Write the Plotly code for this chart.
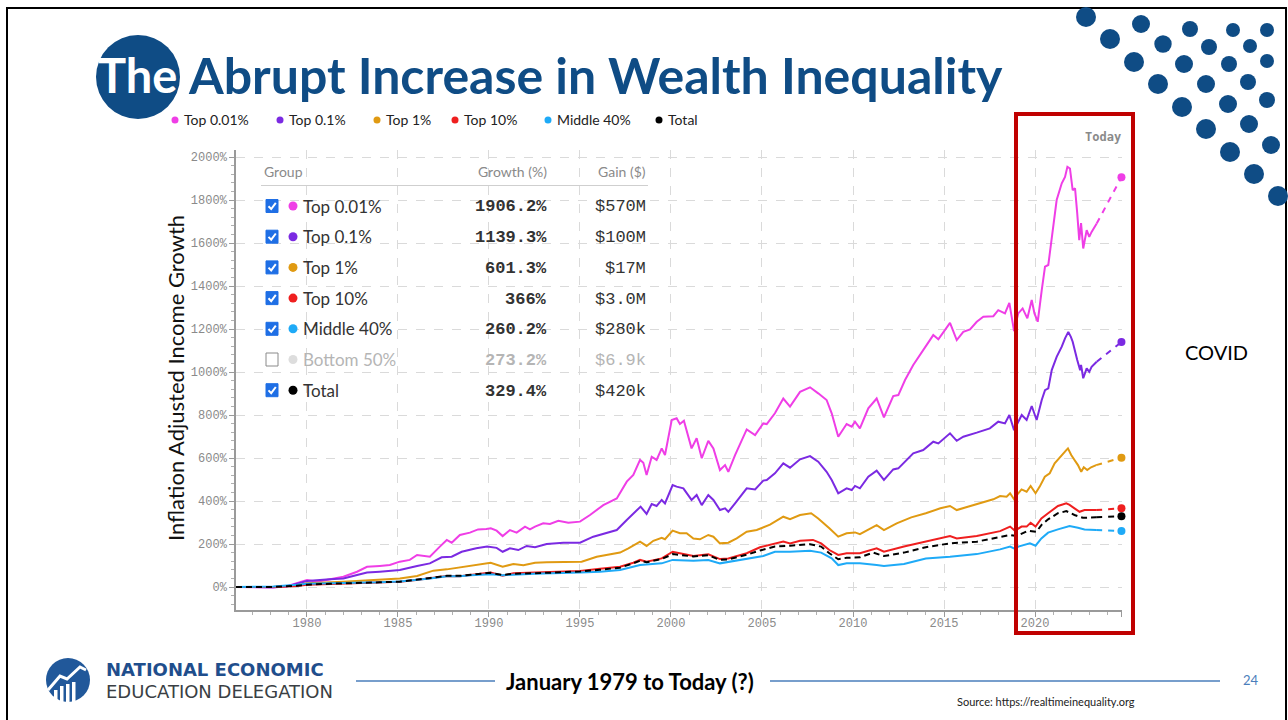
import plotly.graph_objects as go

# ---------------- data ----------------
SERIES_NAMES = ["Top 0.01%", "Top 0.1%", "Top 1%", "Top 10%", "Middle 40%", "Total"]
SERIES_COLORS = ["#ef3ee6", "#7b2ae2", "#e09a12", "#ef1f1f", "#1eaaf7", "#000000"]
TODAY_YEAR = 2024.75

top001_years = [1976.1, 1977.6, 1978.15, 1978.9, 1979.45, 1980.0, 1980.55, 1981.25, 1982.0, 1982.75,
                1983.3, 1984.0, 1984.55, 1985.1, 1985.65, 1986.05, 1986.75, 1987.3, 1987.68, 1987.95,
                1988.4, 1988.95, 1989.4, 1989.85, 1990.1, 1990.42, 1990.75, 1991.15, 1991.52, 1991.98,
                1992.25, 1992.53, 1992.98, 1993.35, 1993.81, 1994.36, 1995.0, 1995.55, 1996.28, 1997.02,
                1997.57, 1997.93, 1998.3, 1998.48, 1998.66, 1998.94, 1999.21, 1999.49, 1999.67, 2000.04,
                2000.31, 2000.49, 2000.71, 2001.13, 2001.41, 2001.69, 2002.05, 2002.33, 2002.69, 2002.97,
                2003.15, 2003.52, 2004.16, 2004.62, 2005.07, 2005.26, 2005.71, 2006.17, 2006.54, 2007.09,
                2007.64, 2008.09, 2008.55, 2008.83, 2009.19, 2009.65, 2009.93, 2010.11, 2010.38, 2010.84,
                2011.3, 2011.7, 2012.21, 2012.49, 2012.86, 2013.31, 2013.86, 2014.41, 2014.69, 2015.33,
                2015.7, 2016.06, 2016.43, 2016.8, 2017.16, 2017.71, 2017.98, 2018.35, 2018.59, 2018.85,
                2019.08, 2019.32, 2019.58, 2019.82, 2019.97, 2020.15, 2020.37, 2020.55, 2020.73, 2020.92,
                2021.19, 2021.47, 2021.65, 2021.78, 2021.92, 2022.07, 2022.2, 2022.32, 2022.43, 2022.53,
                2022.65, 2022.84, 2022.98, 2023.11, 2023.39]
top001_vals = [0, 0, -2, 4, 17, 33, 25, 36, 48, 71,
               94, 98, 102, 118, 126, 149, 141, 188, 219, 206,
               242, 253, 268, 270, 273, 262, 237, 265, 253, 281,
               268, 281, 296, 293, 308, 299, 304, 335, 381, 412,
               490, 521, 591, 578, 521, 606, 591, 645, 614, 777,
               785, 758, 773, 645, 692, 599, 680, 645, 544, 567,
               536, 614, 733, 707, 761, 758, 808, 877, 839, 908,
               929, 901, 870, 808, 699, 758, 746, 769, 738, 831,
               877, 789, 888, 893, 963, 1033, 1102, 1172, 1152, 1229,
               1149, 1187, 1198, 1234, 1257, 1260, 1288, 1273, 1322, 1190,
               1273, 1296, 1250, 1335, 1273, 1234, 1381, 1490, 1498, 1629,
               1800, 1878, 1908, 1955, 1947, 1846, 1855, 1738, 1614, 1693,
               1575, 1660, 1629, 1652, 1691]

top01_years = [1976.1, 1977.6, 1978.15, 1978.9, 1979.45, 1980.0, 1981.25, 1982.0, 1982.75, 1983.3,
               1984.0, 1985.1, 1986.05, 1986.75, 1987.4, 1987.95, 1988.5, 1989.3, 1989.9, 1990.42,
               1990.75, 1991.15, 1991.61, 1992.07, 1992.53, 1993.17, 1994.09, 1995.0, 1995.73, 1996.47,
               1997.02, 1997.57, 1998.02, 1998.33, 1998.66, 1998.94, 1999.21, 1999.49, 1999.67, 2000.09,
               2000.31, 2000.68, 2001.13, 2001.41, 2001.69, 2002.05, 2002.33, 2002.69, 2002.97, 2003.15,
               2003.52, 2004.16, 2004.62, 2005.07, 2005.26, 2005.71, 2006.17, 2006.54, 2007.09, 2007.64,
               2008.09, 2008.55, 2008.83, 2009.19, 2009.65, 2009.93, 2010.11, 2010.38, 2010.84, 2011.3,
               2011.7, 2012.21, 2012.49, 2012.86, 2013.31, 2013.86, 2014.41, 2014.69, 2015.33, 2015.7,
               2016.06, 2016.8, 2017.52, 2017.98, 2018.35, 2018.59, 2018.85, 2019.27, 2019.54, 2019.82,
               2020.09, 2020.37, 2020.55, 2020.73, 2020.92, 2021.19, 2021.47, 2021.65, 2021.83, 2021.97,
               2022.07, 2022.32, 2022.48, 2022.53, 2022.65, 2022.84, 2022.98, 2023.11, 2023.39]
top01_vals = [0, 0, -1, 3, 15, 28, 36, 40, 56, 67,
              71, 79, 98, 110, 138, 141, 164, 180, 188, 182,
              164, 180, 172, 191, 185, 200, 206, 206, 234, 253,
              265, 312, 350, 374, 340, 386, 377, 405, 389, 474,
              467, 459, 405, 428, 381, 428, 405, 358, 366, 350,
              389, 459, 454, 495, 498, 529, 575, 555, 594, 609,
              583, 536, 498, 436, 459, 451, 470, 459, 513, 541,
              498, 547, 552, 583, 622, 637, 676, 668, 715, 680,
              699, 718, 738, 769, 761, 800, 730, 800, 777, 842,
              777, 870, 916, 924, 1009, 1071, 1118, 1157, 1187, 1164,
              1141, 1056, 1009, 1033, 971, 1017, 1001, 1024, 1048]

top1_years = [1976.1, 1978.15, 1979.45, 1980.0, 1982.0, 1984.0, 1985.1, 1986.05, 1986.94, 1987.68,
              1988.59, 1989.51, 1990.09, 1990.75, 1991.34, 1991.89, 1992.53, 1993.17, 1994.09, 1995.09,
              1995.92, 1996.83, 1997.2, 1997.66, 1998.3, 1998.66, 1999.03, 1999.49, 1999.67, 2000.09,
              2000.49, 2000.86, 2001.23, 2001.59, 2002.05, 2002.33, 2002.69, 2003.15, 2003.61, 2004.16,
              2004.71, 2005.44, 2005.99, 2006.17, 2006.54, 2007.09, 2007.7, 2008.09, 2008.7, 2009.19,
              2009.65, 2010.11, 2010.38, 2011.3, 2011.7, 2012.4, 2013.2, 2014.0, 2014.8, 2015.33,
              2015.7, 2016.3, 2017.0, 2017.71, 2018.08, 2018.44, 2018.63, 2018.85, 2019.08, 2019.26,
              2019.54, 2019.76, 2020.03, 2020.26, 2020.54, 2020.81, 2021.08, 2021.45, 2021.72, 2021.81,
              2021.99, 2022.17, 2022.36, 2022.54, 2022.68, 2022.87, 2023.08, 2023.36]
top1_vals = [0, 0, 8, 17, 25, 33, 40, 51, 76, 82,
             94, 107, 113, 94, 107, 101, 113, 115, 118, 118,
             141, 153, 160, 180, 211, 191, 215, 229, 222, 262,
             250, 250, 226, 222, 242, 234, 203, 206, 226, 257,
             265, 290, 318, 327, 315, 335, 343, 319, 273, 234,
             250, 254, 246, 288, 265, 296, 324, 343, 366, 377,
             358, 374, 389, 408, 423, 420, 436, 408, 436, 454,
             443, 470, 436, 467, 513, 529, 575, 614, 637, 645,
             614, 591, 567, 536, 557, 544, 557, 567]

top10_years = [1976.1, 1978.15, 1979.45, 1980.0, 1981.3, 1982.75, 1984.0, 1985.1, 1986.0, 1986.76,
               1987.68, 1988.4, 1989.0, 1990.09, 1990.75, 1991.34, 1992.53, 1995.0, 1996.1, 1997.2,
               1997.93, 1998.3, 1998.66, 1999.49, 2000.09, 2000.49, 2001.23, 2002.05, 2002.69, 2003.15,
               2004.16, 2004.89, 2005.71, 2006.17, 2006.54, 2007.09, 2007.8, 2008.25, 2008.7, 2009.19,
               2009.65, 2010.38, 2011.3, 2011.7, 2012.8, 2014.0, 2015.33, 2015.7, 2016.8, 2018.08,
               2018.63, 2018.9, 2019.26, 2019.54, 2019.76, 2020.03, 2020.35, 2020.72, 2021.26, 2021.72,
               2021.9, 2022.17, 2022.45, 2022.72, 2023.36]
top10_vals = [0, 0, 5, 10, 14, 17, 22, 25, 33, 40,
              51, 50, 56, 67, 53, 64, 67, 74, 85, 94,
              113, 126, 118, 133, 164, 157, 144, 152, 130, 133,
              157, 185, 203, 211, 203, 215, 219, 203, 172, 149,
              157, 157, 180, 164, 188, 211, 237, 226, 237, 260,
              281, 262, 281, 281, 299, 281, 319, 343, 377, 389,
              382, 366, 350, 358, 358]

mid40_years = [1976.1, 1978.15, 1979.45, 1980.0, 1981.3, 1982.75, 1984.0, 1985.1, 1986.0, 1986.76,
               1987.68, 1988.4, 1989.0, 1990.09, 1990.75, 1992.5, 1995.0, 1996.1, 1997.2, 1998.3,
               1999.49, 2000.09, 2001.23, 2002.05, 2002.69, 2004.16, 2005.07, 2005.71, 2006.54, 2007.64,
               2008.25, 2008.83, 2009.19, 2009.65, 2010.38, 2011.3, 2011.7, 2012.8, 2014.0, 2015.33,
               2016.8, 2018.08, 2018.63, 2018.9, 2019.08, 2019.72, 2020.03, 2020.35, 2020.72, 2021.26,
               2021.9, 2022.36, 2022.72, 2023.36]
mid40_vals = [0, 2, 10, 15, 18, 19, 22, 26, 33, 40,
              50, 50, 55, 59, 55, 62, 67, 71, 79, 102,
              110, 126, 122, 126, 110, 133, 144, 164, 164, 169,
              160, 133, 102, 110, 110, 102, 98, 107, 133, 141,
              153, 175, 188, 177, 188, 203, 192, 226, 253, 268,
              284, 276, 268, 265]

total_years = [1976.1, 1978.15, 1979.45, 1980.0, 1981.3, 1982.75, 1984.0, 1985.1, 1986.0, 1986.76,
               1987.68, 1988.4, 1989.0, 1990.09, 1990.75, 1991.34, 1992.53, 1995.0, 1996.1, 1997.2,
               1997.93, 1998.3, 1998.66, 1999.49, 2000.09, 2000.49, 2001.23, 2002.05, 2002.69, 2003.15,
               2004.16, 2004.89, 2005.71, 2006.54, 2007.64, 2008.25, 2008.7, 2009.19, 2009.65, 2010.38,
               2011.1, 2011.7, 2012.8, 2014.0, 2015.33, 2016.8, 2018.08, 2018.63, 2019.0, 2019.63,
               2020.08, 2020.35, 2020.72, 2021.26, 2021.72, 2022.17, 2022.63, 2023.36]
total_vals = [0, 0, 6, 11, 15, 17, 22, 25, 33, 42,
              52, 52, 57, 66, 56, 62, 64, 72, 80, 90,
              110, 122, 115, 130, 153, 148, 142, 148, 126, 128,
              150, 170, 188, 192, 199, 188, 157, 129, 136, 138,
              160, 144, 160, 185, 203, 211, 234, 242, 237, 262,
              257, 288, 315, 343, 353, 335, 322, 324]

TODAY_VALUES = [1906.2, 1139.3, 601.3, 366.0, 260.2, 329.4]
SERIES_YEARS = [top001_years, top01_years, top1_years, top10_years, mid40_years, total_years]
SERIES_VALUES = [top001_vals, top01_vals, top1_vals, top10_vals, mid40_vals, total_vals]

TABLE_GROUPS = ["Top 0.01%", "Top 0.1%", "Top 1%", "Top 10%", "Middle 40%", "Bottom 50%", "Total"]
TABLE_GROWTH = ["1906.2%", "1139.3%", "601.3%", "366%", "260.2%", "273.2%", "329.4%"]
TABLE_GAIN = ["$570M", "$100M", "$17M", "$3.0M", "$280k", "$6.9k", "$420k"]
TABLE_CHECKED = [True, True, True, True, True, False, True]

Y_TICKS = list(range(0, 2001, 200))
Y_TICK_TEXT = [f"{v}%" for v in Y_TICKS]
X_TICKS = [1980, 1985, 1990, 1995, 2000, 2005, 2010, 2015, 2020]
X_TICK_TEXT = [str(v) for v in X_TICKS]

# ---------------- layout helpers (pixel -> paper) ----------------
W, H = 1288, 720
L, T, PW, PH = 236, 150, 886, 460


def px(x):
    return (x - L) / PW


def py(y):
    return (T + PH - y) / PH


shapes = []
annots = []


def text(x, y, s, size, color="#000", family="Lato", xanchor="left", bold=False, **kw):
    if bold:
        s = f"<b>{s}</b>"
    annots.append(dict(x=px(x), y=py(y), xref="paper", yref="paper", text=s, showarrow=False,
                       xanchor=xanchor, yanchor="middle", font=dict(size=size, color=color, family=family), **kw))


def circle(cx, cy, r, color, layer="above"):
    shapes.append(dict(type="circle", xref="paper", yref="paper", x0=px(cx - r), x1=px(cx + r),
                       y0=py(cy + r), y1=py(cy - r), fillcolor=color, line=dict(width=0), layer=layer))


def rect(x0, y0, x1, y1, fill=None, line_color=None, lw=0, layer="above"):
    d = dict(type="rect", xref="paper", yref="paper", x0=px(x0), x1=px(x1), y0=py(y1), y1=py(y0),
             line=dict(width=lw, color=line_color or "rgba(0,0,0,0)"), layer=layer)
    if fill:
        d["fillcolor"] = fill
    shapes.append(d)


def line(x0, y0, x1, y1, color, lw):
    shapes.append(dict(type="line", xref="paper", yref="paper", x0=px(x0), x1=px(x1), y0=py(y0), y1=py(y1),
                       line=dict(color=color, width=lw)))


def path(points, color, lw):
    p = "M " + " L ".join(f"{px(a)},{py(b)}" for a, b in points)
    shapes.append(dict(type="path", xref="paper", yref="paper", path=p, line=dict(color=color, width=lw)))


# ---------------- traces ----------------
fig = go.Figure()
for name, col, xs, ys, tv in zip(SERIES_NAMES, SERIES_COLORS, SERIES_YEARS, SERIES_VALUES, TODAY_VALUES):
    dash = "6px,4px" if name == "Total" else "solid"
    fig.add_trace(go.Scatter(x=xs, y=ys, mode="lines", name=name,
                             line=dict(color=col, width=2, dash=dash), hoverinfo="skip"))
    fig.add_trace(go.Scatter(x=[xs[-1], TODAY_YEAR], y=[ys[-1], tv], mode="lines",
                             line=dict(color=col, width=2, dash="6px,6px"), hoverinfo="skip"))
    fig.add_trace(go.Scatter(x=[TODAY_YEAR], y=[tv], mode="markers", cliponaxis=False,
                             marker=dict(color=col, size=8), hoverinfo="skip"))

# ---------------- slide decorations ----------------
# outer frame
rect(7, 8, 1286, 730, line_color="#000", lw=2)

# title
circle(138, 77, 42, "#0f4c85")
text(137, 75, "The", 47, "#ffffff", family="Lato", xanchor="center", bold=True)
text(186, 75, "Abrupt Increase in Wealth Inequality", 50, "#0f4c85", family="Lato", bold=True)

# decorative dots
DOTS = [(1086, 17, 10), (1110, 39, 10), (1141, 24, 9), (1134, 62, 10), (1163, 44, 8.7), (1190, 29, 8),
        (1158, 84, 10), (1184, 64, 9), (1209, 47, 8), (1233, 30, 7), (1267, 30, 7), (1250, 46, 7),
        (1229, 64, 8), (1206, 84, 9), (1182, 107, 10), (1267, 61, 7), (1248, 82, 8), (1228, 104, 9),
        (1206, 129, 10), (1267, 100, 8), (1249, 124, 9), (1230, 152, 10), (1271, 145, 9), (1254, 174, 10),
        (1278, 196, 10)]
for cx, cy, r in DOTS:
    circle(cx, cy, r, "#0f4c85")

# top legend
LEG_X = [175, 280, 377, 455, 548, 659]
for lx, name, col in zip(LEG_X, SERIES_NAMES, SERIES_COLORS):
    circle(lx, 120, 3.5, col)
    text(lx + 7, 120, name, 14, "#222")

# table
rect(250, 161, 656, 407, fill="#ffffff", layer="between")
text(262, 172, "Group", 14, "#8a8a8a")
text(549, 172, "Growth (%)", 14, "#8a8a8a", xanchor="right")
text(648, 172, "Gain ($)", 14, "#8a8a8a", xanchor="right")
line(261, 185.5, 648, 185.5, "#cfcfcf", 1)
ROW_Y0, ROW_DY = 206, 30.7
dot_colors = {n: c for n, c in zip(SERIES_NAMES, SERIES_COLORS)}
for i, (g, gr, ga, chk) in enumerate(zip(TABLE_GROUPS, TABLE_GROWTH, TABLE_GAIN, TABLE_CHECKED)):
    y = ROW_Y0 + i * ROW_DY
    if chk:
        rect(266, y - 6.5, 278, y + 6.5, fill="#1f6fe5", line_color="#1f6fe5", lw=1)
        path([(268.5, y + 0.2), (271.2, y + 3), (275.8, y - 3.2)], "#ffffff", 2)
        dcol, tcol, ncol = dot_colors[g], "#333333", "#333333"
    else:
        rect(266, y - 6.5, 278, y + 6.5, fill="#ffffff", line_color="#8a8a8a", lw=1)
        dcol, tcol, ncol = "#dddddd", "#b5b5b5", "#b5b5b5"
    circle(293, y, 4.5, dcol)
    text(301, y, g, 17, tcol)
    text(549, y + 1, gr, 17, ncol, family="Liberation Mono", xanchor="right", bold=True)
    text(648, y + 1, ga, 17, ncol, family="Liberation Mono", xanchor="right")

# "Today" label
text(1123, 137, "Today", 12, "#8a8a8a", family="DejaVu Sans Mono", xanchor="right", bold=True)

# y-axis title
annots.append(dict(x=px(175), y=py(378), xref="paper", yref="paper", text="Inflation Adjusted Income Growth",
                   showarrow=False, textangle=-90, xanchor="center", yanchor="middle",
                   font=dict(size=22, color="#111", family="Lato")))

# red COVID box
rect(1016, 114, 1133, 633, line_color="#c00000", lw=4)
text(1183, 352, "COVID", 20, "#000")

# footer
circle(68, 680, 22, "#21589a")
for bx, top in [(54, 690), (60, 686), (66, 684), (72, 682)]:
    rect(bx, top, bx + 3.5, 703, fill="#ffffff")
path([(48, 690), (60, 676), (67, 679), (80, 667), (86, 670)], "#ffffff", 3)
text(104, 669, "NATIONAL ECONOMIC", 18, "#1f4e8c", family="DejaVu Sans", bold=True)
text(104, 691, "EDUCATION DELEGATION", 18, "#3a3f44", family="DejaVu Sans")
line(356, 681, 495, 681, "#4a7ebb", 1.3)
line(770, 681, 1220, 681, "#4a7ebb", 1.3)
text(630, 681, "January 1979 to Today (?)", 22, "#000", xanchor="center", bold=True)
text(1251, 680, "24", 13, "#4a7ebb", xanchor="center")
text(955, 701, "Source: https://realtimeinequality.org", 11, "#222")

fig.update_layout(
    width=W, height=H, paper_bgcolor="white", plot_bgcolor="white", showlegend=False,
    margin=dict(l=L, r=W - L - PW, t=T, b=H - T - PH, pad=0),
    shapes=shapes, annotations=annots,
    xaxis=dict(range=[1976.1, 2024.78], tickmode="array", tickvals=X_TICKS + [TODAY_YEAR],
               ticktext=X_TICK_TEXT + [""], showgrid=True, gridcolor="#dadada", griddash="dash",
               gridwidth=1, zeroline=False, showline=True, linecolor="#9a9a9a", linewidth=1.5,
               ticks="outside", ticklen=5, tickcolor="#9a9a9a", ticklabelstandoff=-4,
               tickfont=dict(family="Liberation Mono", size=12, color="#8a8a8a"),
               minor=dict(ticks="outside", ticklen=3, tick0=1976, dtick=1, tickcolor="#b0b0b0", showgrid=False)),
    yaxis=dict(range=[-107, 2033], tickmode="array", tickvals=Y_TICKS, ticktext=Y_TICK_TEXT,
               showgrid=True, gridcolor="#dadada", griddash="dash", gridwidth=1, zeroline=False,
               showline=True, linecolor="#9a9a9a", linewidth=1.5, ticks="outside", ticklen=5,
               tickcolor="#9a9a9a", tickfont=dict(family="Liberation Mono", size=12, color="#8a8a8a"),
               minor=dict(ticks="outside", ticklen=3, tick0=0, dtick=40, tickcolor="#b0b0b0", showgrid=False)),
)

fig.write_html("out.html", config={"displayModeBar": False},
               post_script="document.body.style.margin='0px';")
